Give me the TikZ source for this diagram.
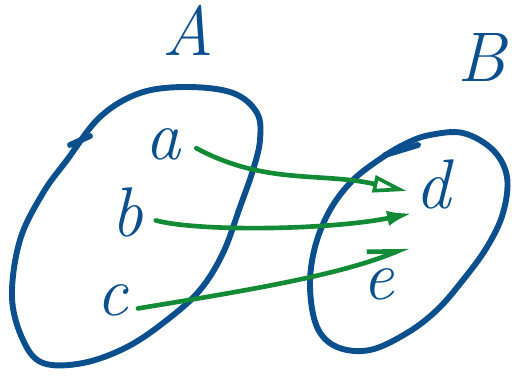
\documentclass[tikz,border=0pt]{standalone}
\usepackage{xcolor}
\usetikzlibrary{arrows.meta, positioning}
\definecolor{inkblue}{HTML}{0B4F8C}
\definecolor{inkgreen}{HTML}{138A36}
\tikzstyle{setline} = [draw=inkblue, line width=4.2pt, line cap=round, line join=round]
\tikzstyle{elem} = [text=inkblue, font=\fontsize{50}{54}\selectfont\itshape, inner sep=1pt]
\tikzstyle{maparrow} = [draw=inkgreen, line width=3.3pt, line cap=round, line join=round]

\begin{document}
\begin{tikzpicture}[x=0.025cm, y=-0.025cm]
  \useasboundingbox (0,0) rectangle (512,378);
  % the two sets
  \draw[setline] plot[smooth cycle, tension=0.6] coordinates {(187,87) (233,93) (257,113) (260,140) (253,170) (240,207) (223,253) (200,290) (167,320) (127,347) (83,363) (43,363) (23,340) (12,297) (20,240) (43,193) (67,160) (100,117) (140,93)};
  \draw[setline] (70,145) -- (90,136);
  \draw[setline] plot[smooth cycle, tension=0.6] coordinates {(430,135) (463,133) (493,150) (507,177) (503,213) (487,247) (463,280) (437,310) (407,333) (370,350) (337,347) (317,327) (310,287) (315,247) (330,210) (353,180) (383,157) (407,143)};
  \draw[setline] (385,155) -- (418,145);
  \node (labA) [elem] at (188,30) {A};
  \node (labB) [elem] at (482,57) {B};
  % elements
  \node (a) [elem] at (163,144) {a};
  \node (b) [elem] at (127,212) {b};
  \node (c) [elem] at (112,300) {c};
  \node (d) [elem] at (433,184) {d};
  \node (e) [elem] at (378,284) {e};
  % the map
  \draw[maparrow, -{Triangle[open, length=24pt, width=12pt, line width=2.6pt]}] ([xshift=10pt, yshift=-3pt]a.east) .. controls (265,185) and (320,172) .. ([xshift=-5pt, yshift=-5pt]d.west);
  \draw[maparrow, -{Latex[length=18pt, width=11pt]}] ([xshift=8pt, yshift=-6pt]b.east) .. controls (200,232) and (330,230) .. ([xshift=-1pt, yshift=-2pt]d.south west);
  \draw[maparrow, -{Straight Barb[left, length=20pt, width=16pt]}] ([xshift=6pt, yshift=-6pt]c.east) .. controls (250,290) and (340,275) .. ([xshift=9pt, yshift=14pt]e.north east);
\end{tikzpicture}
\end{document}
